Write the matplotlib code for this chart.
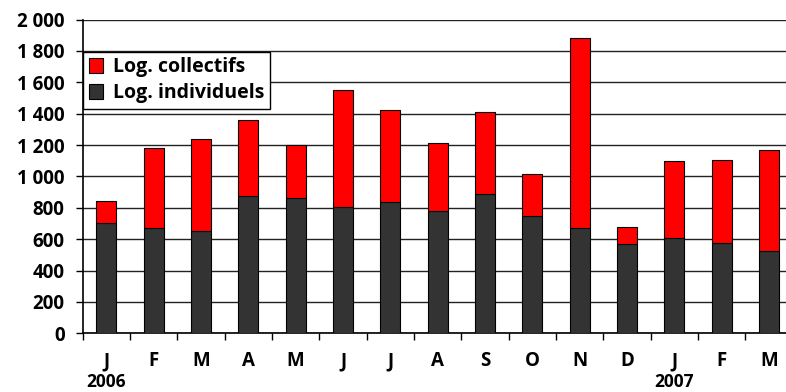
import numpy as np
import matplotlib
matplotlib.use("Agg")
import matplotlib.pyplot as plt
from matplotlib.ticker import FixedLocator, FuncFormatter

months = ["J", "F", "M", "A", "M", "J", "J", "A", "S", "O", "N", "D", "J", "F", "M"]
years = {0: "2006", 12: "2007"}
individuels = [700, 670, 650, 877, 860, 805, 840, 782, 888, 745, 670, 568, 610, 573, 527]
totals = [842, 1178, 1237, 1362, 1198, 1552, 1423, 1210, 1408, 1013, 1880, 680, 1097, 1103, 1168]
collectifs = [t - i for t, i in zip(totals, individuels)]

RED = "#ff0000"
DARK = "#333333"

plt.rcParams["font.family"] = ["Open Sans", "DejaVu Sans"]
plt.rcParams["font.weight"] = "bold"

fig = plt.figure(figsize=(7.86, 3.92), dpi=100)
ax = fig.add_axes([0.1052, 0.1497, 0.9033, 0.8005])

x = np.arange(len(months))
w = 0.42
b1 = ax.bar(x, individuels, w, color=DARK, edgecolor="black", linewidth=0.8,
            label="Log. individuels", zorder=3)
b2 = ax.bar(x, collectifs, w, bottom=individuels, color=RED, edgecolor="black",
            linewidth=0.8, label="Log. collectifs", zorder=3)

ax.set_xlim(-0.5, len(months) - 0.5)
ax.set_ylim(0, 2000)
ax.set_yticks(np.arange(0, 2001, 200))
ax.yaxis.set_major_formatter(FuncFormatter(
    lambda v, p: f"{int(v):,}".replace(",", " ")))
ax.yaxis.grid(True, color="#222222", linewidth=1.0, zorder=0)
ax.set_axisbelow(True)

ax.set_xticks(x)
ax.set_xticklabels(months)
ax.xaxis.set_minor_locator(FixedLocator(np.arange(-0.5, len(months), 1.0)))
ax.tick_params(axis="x", which="major", length=0, pad=13, labelsize=13.5)
ax.tick_params(axis="x", which="minor", length=5, width=1, direction="out")
ax.tick_params(axis="y", length=5, width=1, direction="out", pad=8, labelsize=13.5)
for lbl in ax.get_xticklabels() + ax.get_yticklabels():
    lbl.set_fontweight("bold")

for s in ("top", "right"):
    ax.spines[s].set_visible(False)
for s in ("left", "bottom"):
    ax.spines[s].set_linewidth(1.2)

for i, yr in years.items():
    ax.annotate(yr, xy=(i, 0), xycoords=("data", "axes fraction"),
                xytext=(0, -35), textcoords="offset points",
                ha="center", va="center", fontsize=12.5, fontweight="bold")

leg = ax.legend(handles=[b2, b1], loc="upper left", bbox_to_anchor=(0, 0.898),
                borderaxespad=0, fancybox=False, framealpha=1, edgecolor="black",
                prop={"size": 14, "weight": "bold"}, handlelength=0.75,
                handleheight=0.75, handletextpad=0.5, labelspacing=0.3,
                borderpad=0.3)
leg.get_frame().set_linewidth(1.0)

fig.savefig("out.png", dpi=100)
